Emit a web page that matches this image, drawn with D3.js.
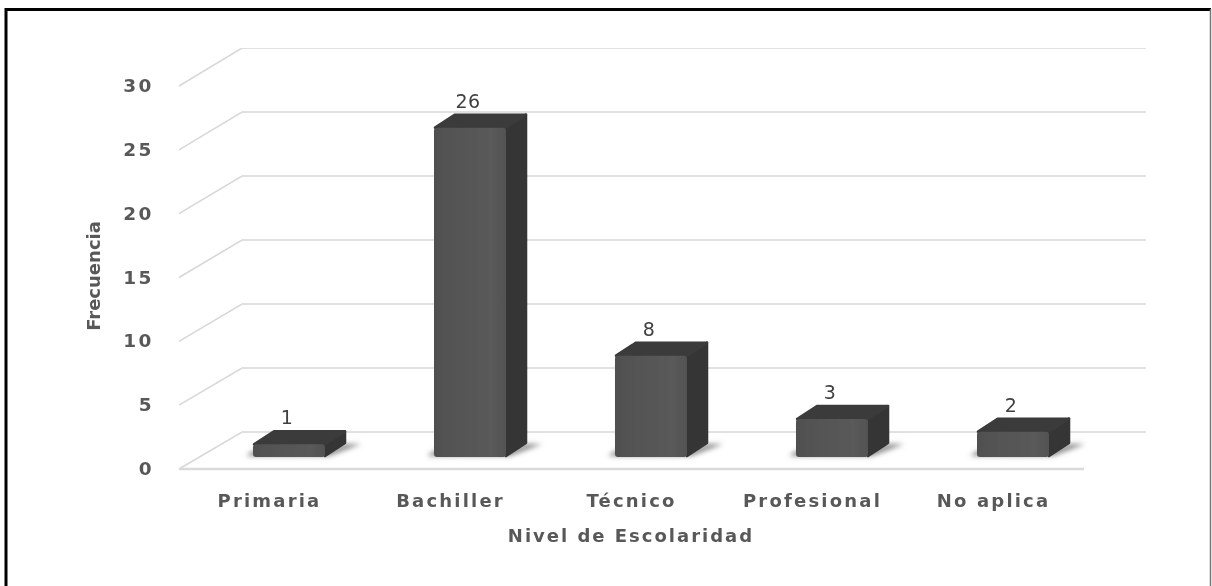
<!DOCTYPE html>
<html><head><meta charset="utf-8">
<script src="https://cdn.jsdelivr.net/npm/d3@7/dist/d3.min.js"></script>
<style>html,body{margin:0;padding:0;background:#fff}svg{display:block}
text{font-family:"DejaVu Sans",sans-serif}</style></head>
<body><svg id="c" width="1212" height="586"></svg>
<script>
const categories = ["Primaria","Bachiller","Técnico","Profesional","No aplica"];
const values = [1,26,8,3,2];
const yTicks = [0,5,10,15,20,25,30];
const xTitle = "Nivel de Escolaridad";
const yTitle = "Frecuencia";

const svg = d3.select("#c");
const defs = svg.append("defs");
defs.append("filter").attr("id","soft").attr("x",0).attr("y",0).attr("width","100%").attr("height","100%")
  .append("feGaussianBlur").attr("stdDeviation",0.6);
defs.append("filter").attr("id","shadow").attr("x","-30%").attr("y","-50%").attr("width","160%").attr("height","200%")
  .append("feGaussianBlur").attr("stdDeviation",2.5);
const fg = defs.append("linearGradient").attr("id","face");
fg.append("stop").attr("offset","0").attr("stop-color","#505050");
fg.append("stop").attr("offset","0.8").attr("stop-color","#5a5a5a");
fg.append("stop").attr("offset","1").attr("stop-color","#525252");

svg.append("rect").attr("width",1212).attr("height",586).attr("fill","#fff");
// frame
svg.append("path").attr("d","M6,586V9.5H1211").attr("fill","none").attr("stroke","#000").attr("stroke-width",3);
svg.append("path").attr("d","M1210.5,9V586").attr("fill","none").attr("stroke","#777").attr("stroke-width",1.5);

const root = svg.append("g").attr("filter","url(#soft)");

const depthX = 21, depthY = 14;
const yBack = d3.scaleLinear().domain([0,30]).range([432,48]);
const yFront = d3.scaleLinear().domain([0,30]).range([469,86]);
const yBar = d3.scaleLinear().domain([0,30]).range([457,77]);
const xBand = d3.scaleBand().domain(categories).range([198.5,1103.5]).paddingInner(0.602).paddingOuter(0.301);
const xLabel = d3.scaleBand().domain(categories).range([178,1083]);

// gridlines
const grid = root.append("g").attr("fill","none").attr("stroke","#d8d8d8").attr("stroke-width",1.6);
grid.selectAll("path").data(yTicks).join("path")
  .attr("d",d=>`M179,${yFront(d)}L242,${yBack(d)}H1146`);
root.append("line").attr("x1",179).attr("x2",1084).attr("y1",yFront(0)).attr("y2",yFront(0))
  .attr("stroke","#dadada").attr("stroke-width",2.5);

// bars
const bars = root.append("g").selectAll("g").data(categories.map((c,i)=>({c,v:values[i]}))).join("g");
const base = yBar(0);
bars.append("path").attr("filter","url(#shadow)").attr("fill","#8a8a8a")
  .attr("d",d=>{const a=xBand(d.c),b=a+xBand.bandwidth();
    return `M${a-7},${base-1}L${a},${base-6}H${b}L${b+depthX},${base-13}L${b+36},${base-13}L${b+4},${base-1}Z`;});
bars.append("path").attr("fill","#363636")
  .attr("stroke","#363636").attr("stroke-width",2.5).attr("stroke-linejoin","round")
  .attr("d",d=>{const b=xBand(d.c)+xBand.bandwidth(),t=yBar(d.v);
    return `M${b},${t}L${b+depthX-1},${t-depthY+1}V${base-depthY}L${b},${base-1}Z`;});
bars.append("path").attr("fill","#3b3b3b")
  .attr("stroke","#3b3b3b").attr("stroke-width",2.5).attr("stroke-linejoin","round")
  .attr("d",d=>{const a=xBand(d.c),b=a+xBand.bandwidth(),t=yBar(d.v);
    return `M${a+1},${t}L${a+depthX},${t-depthY+1}H${b+depthX-1}L${b},${t}Z`;});
bars.append("rect").attr("fill","url(#face)").attr("rx",3)
  .attr("x",d=>xBand(d.c)).attr("width",xBand.bandwidth())
  .attr("y",d=>yBar(d.v)).attr("height",d=>base-yBar(d.v));
bars.append("text").text(d=>d.v).attr("text-anchor","middle")
  .attr("x",d=>xBand(d.c)+xBand.bandwidth()/2-2).attr("y",d=>yBar(d.v)-depthY-6)
  .attr("font-size",19).attr("letter-spacing",0.5).attr("fill","#404040");

// axis labels
const ty = root.append("g").attr("font-weight",700).attr("fill","#595959");
ty.selectAll("text").data(yTicks).join("text").text(d=>d)
  .attr("x",154).attr("y",d=>yFront(d)+6).attr("text-anchor","end")
  .attr("font-size",18.5).attr("letter-spacing",2.5);
const tx = root.append("g").attr("font-weight",700).attr("fill","#595959");
tx.selectAll("text").data(categories).join("text").text(d=>d)
  .attr("x",d=>xLabel(d)+xLabel.bandwidth()/2+1).attr("y",507).attr("text-anchor","middle")
  .attr("font-size",18).attr("letter-spacing",2.2);
root.append("text").text(xTitle).attr("x",631).attr("y",542).attr("text-anchor","middle")
  .attr("font-size",18).attr("font-weight",700).attr("letter-spacing",2).attr("fill","#595959");
root.append("text").text(yTitle).attr("transform","translate(100,276) rotate(-90)").attr("text-anchor","middle")
  .attr("font-size",18).attr("font-weight",700).attr("fill","#595959");
</script></body></html>
